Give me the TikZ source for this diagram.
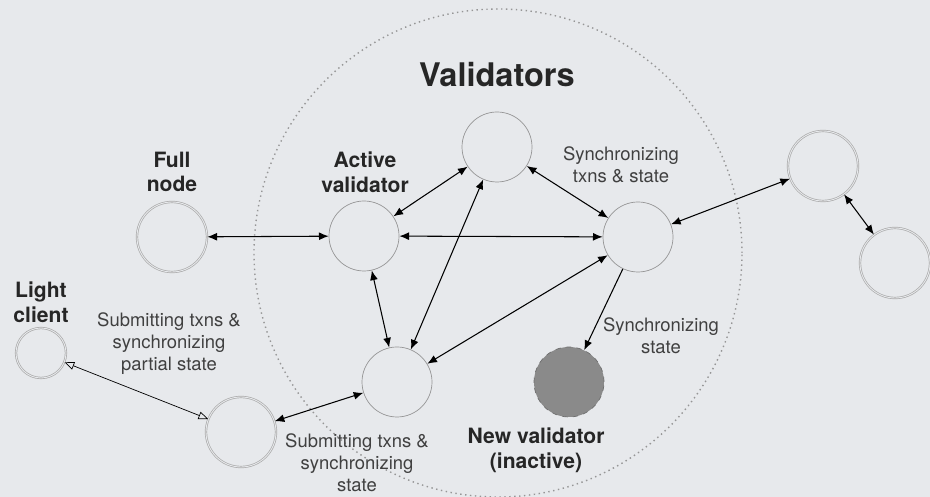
\documentclass[tikz,border=0pt]{standalone}
\usepackage{fontspec}
\setmainfont{TeX Gyre Heros}
\usetikzlibrary{arrows.meta}
\definecolor{bgcol}{RGB}{231,233,236}
\definecolor{ringcol}{RGB}{150,150,150}
\definecolor{newcol}{RGB}{138,138,138}
\tikzset{
  peer/.style={circle, draw=ringcol, thin, minimum size=1.4cm, inner sep=0pt},
  outer/.style={peer, double=bgcol, double distance=0.5pt, draw=ringcol!80},
  link/.style={{Latex[length=5.5pt,width=4.5pt]}-{Latex[length=5.5pt,width=4.5pt]}, semithick},
  lightlink/.style={{Triangle[open,length=5.5pt,width=4.5pt]}-{Triangle[open,length=5.5pt,width=4.5pt]}, thin},
  title/.style={font=\bfseries\fontsize{12}{14}\selectfont, align=center, text=black!85},
  note/.style={font=\fontsize{10.5}{12.5}\selectfont, align=center, text=black!75}
}
\begin{document}
\begin{tikzpicture}
\fill [bgcol] (0,0) rectangle (18.6,9.94);
\useasboundingbox (0,0) rectangle (18.6,9.94);
\draw [dotted, ringcol, thick] (9.96,4.88) circle (4.88);
\node [font=\bfseries\fontsize{18.5}{22}\selectfont, text=black!85] (vals) at (9.94,8.44) {Validators};

\node [outer] (full) at (3.44,5.20) {};
\node [peer] (active) at (7.28,5.22) {};
\node [peer] (top) at (9.94,7.00) {};
\node [peer] (sync) at (12.76,5.20) {};
\node [outer] (farA) at (16.46,6.62) {};
\node [outer] (farB) at (17.90,4.68) {};
\node [peer] (bot) at (7.94,2.30) {};
\node [outer, minimum size=1.0cm] (light) at (0.82,2.88) {};
\node [outer] (edge) at (4.82,1.30) {};
\node [peer, draw=newcol!80!black, dashed, fill=newcol] (newv) at (11.38,2.30) {};

\node [title] (fullL) at (3.44,6.50) {Full\\node};
\node [title] (activeL) at (7.30,6.50) {Active\\validator};
\node [title] (lightL) at (0.82,3.90) {Light\\client};
\node [title] (newL) at (10.72,0.94) {New validator\\(inactive)};
\node [note] (syncL) at (12.42,6.64) {Synchronizing\\txns \& state};
\node [note] (partL) at (3.38,3.06) {Submitting txns \&\\synchronizing\\partial state};
\node [note] (subL) at (7.14,0.68) {Submitting txns \&\\synchronizing\\state};
\node [note] (stateL) at (13.22,3.22) {Synchronizing\\state};

\draw [link] (full) -- (active);
\draw [link] (active) -- (top);
\draw [link] (active) -- (sync);
\draw [link] (top) -- (sync);
\draw [link] (sync) -- (farA);
\draw [link] (farA) -- (farB);
\draw [link] (active) -- (bot);
\draw [link] (top) -- (bot);
\draw [link] (sync) -- (bot);
\draw [link] (bot) -- (edge);
\draw [lightlink] (light) -- (edge);
\draw [-{Latex[length=5.5pt,width=4.5pt]}, semithick] (sync) -- (newv);
\end{tikzpicture}
\end{document}
